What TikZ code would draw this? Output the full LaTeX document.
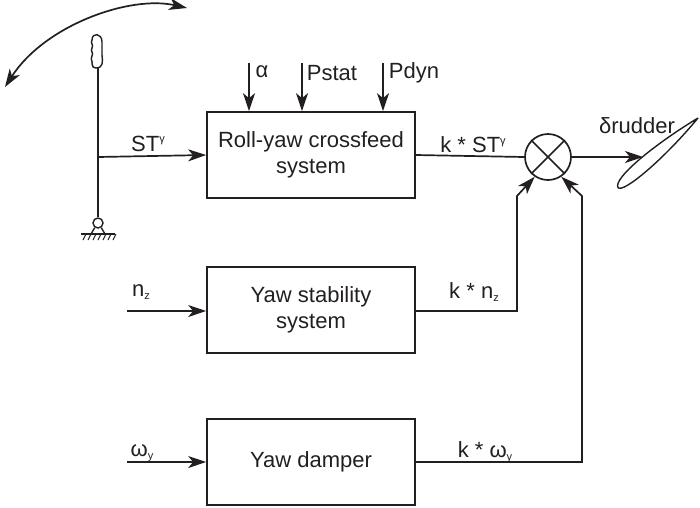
\documentclass[tikz,border=0pt]{standalone}
\usepackage{fontspec}
\setmainfont{Liberation Sans}
\usetikzlibrary{arrows.meta}
\newcommand\mysub[1]{\raisebox{-0.3ex}{\fontsize{11}{11}\selectfont #1}}
\newcommand\mysup[1]{\raisebox{0.75ex}{\fontsize{11}{11}\selectfont #1}}
\definecolor{ink}{RGB}{35,31,32}
\begin{document}
\begin{tikzpicture}[x=1pt,y=-1pt, line width=1.7pt, color=ink,
  arr/.style={-{Stealth[length=18pt,width=12pt,inset=5pt]}},
  dblarr/.style={{Stealth[length=18pt,width=12pt,inset=5pt]}-{Stealth[length=18pt,width=12pt,inset=5pt]}},
  blk/.style={draw, minimum width=208pt, minimum height=86pt, inner sep=0pt, align=center, font=\fontsize{22}{26}\selectfont},
  lbl/.style={inner sep=0pt, font=\fontsize{22}{26}\selectfont},
  sumnode/.style={draw, circle, minimum size=46pt, inner sep=0pt}]
\useasboundingbox (0,0) rectangle (700,507);

% blocks
\node[blk] (b1) at (311,155) {Roll-yaw crossfeed\\system};
\node[blk] (b2) at (311,310) {Yaw stability\\system};
\node[blk] (b3) at (311,462) {Yaw damper};

% summing junction
\node[sumnode] (sum) at (548,157) {};
\draw (sum.45) -- (sum.225);
\draw (sum.135) -- (sum.315);

% joystick
\coordinate (jtop) at (98,68);
\coordinate (jmid) at (98,157);
\node[draw, circle, minimum size=10pt, inner sep=0pt, line width=1.4pt] (piv) at (98,223) {};
\draw (jtop) -- (piv.north);
\draw[line width=1.4pt] (96,68) .. controls (103,68) and (103,62) .. (102,55) -- (102,42)
  .. controls (102,33) and (92,32) .. (92,40)
  .. controls (90,43) and (94,45) .. (92,48)
  .. controls (90,51) and (94,53) .. (92,56)
  .. controls (90,59) and (93,62) .. (92,64)
  .. controls (92,67) and (94,68) .. (96,68);
\draw[line width=1.4pt] (piv.235) -- (91,234);
\draw[line width=1.4pt] (piv.305) -- (105,234);
\draw[line width=1.4pt] (81,234) -- (115,234);
\foreach \x in {86,91,...,116} \draw[line width=1.1pt] (\x,234) -- (\x-3,240);
\draw[dblarr] (5,87) .. controls (45,25) and (130,-5) .. (187,8);

% rudder
\draw[line width=1.4pt] (698,118) .. controls (651.5,146.2) and (613,178.8) .. (618,187.5)
  .. controls (622.5,194) and (663.5,159.7) .. (698,118);
\coordinate (rud) at (643,157);

% top inputs
\coordinate (ia) at (249,63);
\coordinate (ip) at (302,63);
\coordinate (id) at (383,63);
\draw[arr] (ia) -- (ia |- b1.north);
\draw[arr] (ip) -- (ip |- b1.north);
\draw[arr] (id) -- (id |- b1.north);
\node[lbl] (la) at (262,72) {α};
\node[lbl] (lp) at (332,73) {Pstat};
\node[lbl] (ld) at (414,73) {Pdyn};

% left inputs
\draw[arr] (jmid) -- (b1.west);
\node[lbl] (lst) at (148,144) {ST\mysup{γ}};
\coordinate (inz) at (127,311);
\coordinate (iw) at (127,462);
\draw[arr] (inz) -- (inz -| b2.west);
\draw[arr] (iw) -- (b3.west);
\node[lbl] (lnz) at (141,292) {n\mysub{z}};
\node[lbl] (lw) at (142,453) {ω\mysub{y}};

% outputs
\draw (b1.east) -- (sum.west);
\node[lbl] (lkst) at (473,145) {k * ST\mysup{γ}};
\coordinate (c1) at (517,196);
\coordinate (c2) at (582,196);
\draw[arr] (inz -| b2.east) -| (c1) -- (sum.236);
\draw[arr] (b3.east) -| (c2) -- (sum.304);
\node[lbl] (lknz) at (474,292) {k * n\mysub{z}};
\node[lbl] (lkw) at (485,452) {k * ω\mysub{y}};
\draw[arr] (sum.east) -- (rud);
\node[lbl] (ldr) at (637,126) {δrudder};
\end{tikzpicture}
\end{document}
